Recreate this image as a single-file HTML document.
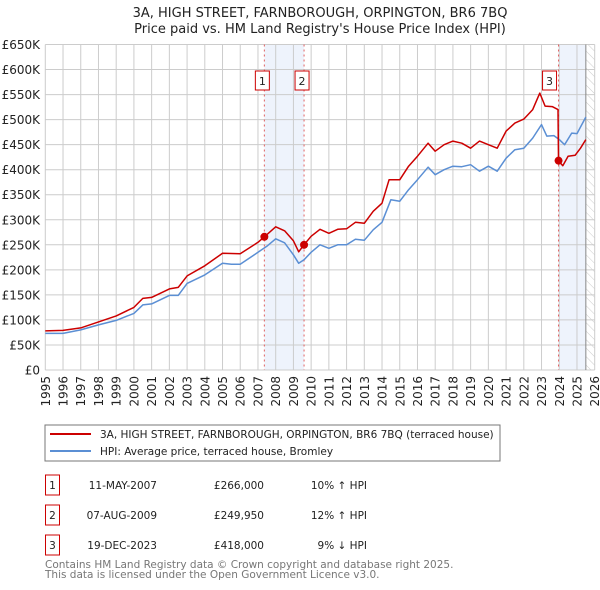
<!DOCTYPE html>
<html><head><meta charset="utf-8">
<style>
body{margin:0;background:#fff;}
svg{display:block;font-family:"DejaVu Sans","Liberation Sans",sans-serif;}
</style></head>
<body>
<svg id="c" width="600" height="590" viewBox="0 0 600 590">
<text x="320" y="17" text-anchor="middle" font-size="13" fill="#222">3A, HIGH STREET, FARNBOROUGH, ORPINGTON, BR6 7BQ</text>
<text x="320" y="33" text-anchor="middle" font-size="13" fill="#222">Price paid vs. HM Land Registry's House Price Index (HPI)</text>
<g id="plot"></g>
<g>
<rect x="45" y="425" width="455" height="36" fill="#fff" stroke="#777"/>
<line x1="50" y1="434" x2="91" y2="434" stroke="#cc0000" stroke-width="2"/>
<text x="100" y="438" font-size="10.5" fill="#222">3A, HIGH STREET, FARNBOROUGH, ORPINGTON, BR6 7BQ (terraced house)</text>
<line x1="50" y1="451" x2="91" y2="451" stroke="#5b8fd4" stroke-width="2"/>
<text x="100" y="455" font-size="10.5" fill="#222">HPI: Average price, terraced house, Bromley</text>
</g>
<g id="tbl" font-size="10.5" fill="#222"></g>
<text x="45" y="568" font-size="10.5" fill="#777">Contains HM Land Registry data © Crown copyright and database right 2025.</text>
<text x="45" y="578" font-size="10.5" fill="#777">This data is licensed under the Open Government Licence v3.0.</text>
</svg>
<script>
const yearTicks=[1995,1996,1997,1998,1999,2000,2001,2002,2003,2004,2005,2006,2007,2008,2009,2010,2011,2012,2013,2014,2015,2016,2017,2018,2019,2020,2021,2022,2023,2024,2025,2026];
const priceTicks=[0,50,100,150,200,250,300,350,400,450,500,550,600,650];
const priceTickLabels=["£0","£50K","£100K","£150K","£200K","£250K","£300K","£350K","£400K","£450K","£500K","£550K","£600K","£650K"];
const hpiT=[1995,1996,1997,1998,1999,2000,2000.5,2001,2002,2002.5,2003,2004,2005,2005.5,2006,2007,2007.5,2008,2008.5,2009,2009.3,2009.6,2010,2010.5,2011,2011.5,2012,2012.5,2013,2013.5,2014,2014.5,2015,2015.5,2016,2016.6,2017,2017.5,2018,2018.5,2019,2019.5,2020,2020.5,2021,2021.5,2022,2022.5,2023,2023.3,2023.7,2024,2024.3,2024.7,2025,2025.5];
const hpiV=[73,73,80,90,99,113,130,132,149,149,173,190,213,211,211,235,247,262,254,230,213,220,235,250,243,250,250,261,259,280,295,340,337,360,380,405,390,400,407,406,410,397,407,397,423,440,443,463,490,467,468,460,450,473,472,505];
const paidT=[1995,1996,1997,1998,1999,2000,2000.5,2001,2002,2002.5,2003,2004,2005,2006,2007,2007.36,2008,2008.5,2009,2009.3,2009.6,2010,2010.5,2011,2011.5,2012,2012.5,2013,2013.5,2014,2014.4,2015,2015.5,2016,2016.6,2017,2017.5,2018,2018.5,2019,2019.5,2020,2020.5,2021,2021.5,2022,2022.5,2022.9,2023.2,2023.6,2023.93,2023.96,2024.2,2024.5,2024.9,2025.2,2025.5];
const paidV=[78,79,84,96,108,125,143,145,162,165,188,208,233,232,255,266,286,278,258,236,250,267,281,273,281,282,295,293,317,333,380,380,407,427,453,437,450,457,453,443,457,450,443,477,493,501,520,553,527,526,520,418,408,427,429,443,460];
const saleLabels=["1","2","3"];
const saleT=[2007.36,2009.6,2023.96];
const saleV=[266,249.95,418];
const saleDates=["11-MAY-2007","07-AUG-2009","19-DEC-2023"];
const salePrices=["£266,000","£249,950","£418,000"];
const saleDiffs=["10% ↑ HPI","12% ↑ HPI","9% ↓ HPI"];
const dataEnd=2025.5;

const X0=45.3,X1=594.7,Y0=370,Y1=44.5;
const x=t=>X0+(t-1995)/(2026-1995)*(X1-X0);
const y=v=>Y0-v/650*(Y0-Y1);
const NS="http://www.w3.org/2000/svg";
function mk(tag,attrs,parent){const e=document.createElementNS(NS,tag);for(const k in attrs)e.setAttribute(k,attrs[k]);parent.appendChild(e);return e;}
const g=document.getElementById('plot');
const sh1=mk('rect',{x:x(saleT[0]),y:Y1,width:x(saleT[1])-x(saleT[0]),height:Y0-Y1,fill:'#eef3fc'},g);


const sh2=mk('rect',{x:x(saleT[2]),y:Y1,width:x(dataEnd)-x(saleT[2]),height:Y0-Y1,fill:'#eef3fc'},g);


const defs=mk('defs',{},g);
const pat=mk('pattern',{id:'hatch',width:6,height:6,patternUnits:'userSpaceOnUse',patternTransform:'rotate(-45)'},defs);
mk('line',{x1:0,y1:0,x2:0,y2:6,stroke:'#ccc','stroke-width':1},pat);
const ht=mk('rect',{x:x(dataEnd),y:Y1,width:X1-x(dataEnd),height:Y0-Y1,fill:'url(#hatch)'},g);


yearTicks.forEach((t,i)=>{
 const l=mk('line',{x1:x(t),x2:x(t),y1:Y1,y2:Y0,stroke:'#ccc','stroke-width':1},g);
 
 
 const tx=mk('text',{x:0,y:0,transform:`translate(${x(t)+4.5},${Y0+6}) rotate(-90)`,'text-anchor':'end','font-size':12,fill:'#222'},g);
 tx.textContent=t;
 
 
});
priceTicks.forEach((v,i)=>{
 const l=mk('line',{x1:X0,x2:X1,y1:y(v),y2:y(v),stroke:'#ccc','stroke-width':1},g);
 
 
 const tx=mk('text',{x:40,y:y(v)+4.5,'text-anchor':'end','font-size':12,fill:'#222'},g);
 tx.textContent=priceTickLabels[i];
 
 
});
const el=mk('line',{x1:x(dataEnd),x2:x(dataEnd),y1:Y1,y2:Y0,stroke:'#888','stroke-width':1},g);


saleT.forEach((t,i)=>{
 const l=mk('line',{x1:x(t),x2:x(t),y1:Y1,y2:Y0,stroke:'#e06060','stroke-width':1,'stroke-dasharray':'2,3'},g);
 
 
});
const pts=(T,V)=>T.map((t,i)=>x(t).toFixed(1)+','+y(V[i]).toFixed(1)).join(' ');
const hp=mk('polyline',{points:pts(hpiT,hpiV),fill:'none',stroke:'#5b8fd4','stroke-width':1.5,'stroke-linejoin':'round'},g);


const pp=mk('polyline',{points:pts(paidT,paidV),fill:'none',stroke:'#cc0000','stroke-width':1.5,'stroke-linejoin':'round'},g);


saleT.forEach((t,i)=>{
 const c=mk('circle',{cx:x(t),cy:y(saleV[i]),r:4,fill:'#cc0000'},g);
 
 
 const bx=x(t)-(i==2?9:2)-7;
 const r=mk('rect',{x:bx,y:71,width:14,height:19,fill:'#fff',stroke:'#cc0000','stroke-width':1},g);
 
 
 const tx=mk('text',{x:bx+7,y:85,'text-anchor':'middle','font-size':11,fill:'#222'},g);
 tx.textContent=saleLabels[i];
 
 
});
const tb=document.getElementById('tbl');
saleLabels.forEach((s,i)=>{
 const ry=475+i*30;
 const r=mk('rect',{x:45.5,y:ry,width:14,height:20,fill:'#fff',stroke:'#cc0000','stroke-width':1},tb);
 
 
 const a=mk('text',{x:52.5,y:ry+14,'text-anchor':'middle'},tb);a.textContent=s;
 
 
 const d=mk('text',{x:157,y:ry+14,'text-anchor':'end'},tb);d.textContent=saleDates[i];
 
 
 const p=mk('text',{x:264,y:ry+14,'text-anchor':'end'},tb);p.textContent=salePrices[i];
 
 
 const h=mk('text',{x:367,y:ry+14,'text-anchor':'end'},tb);h.textContent=saleDiffs[i];
 
 
});
</script>
</body></html>
